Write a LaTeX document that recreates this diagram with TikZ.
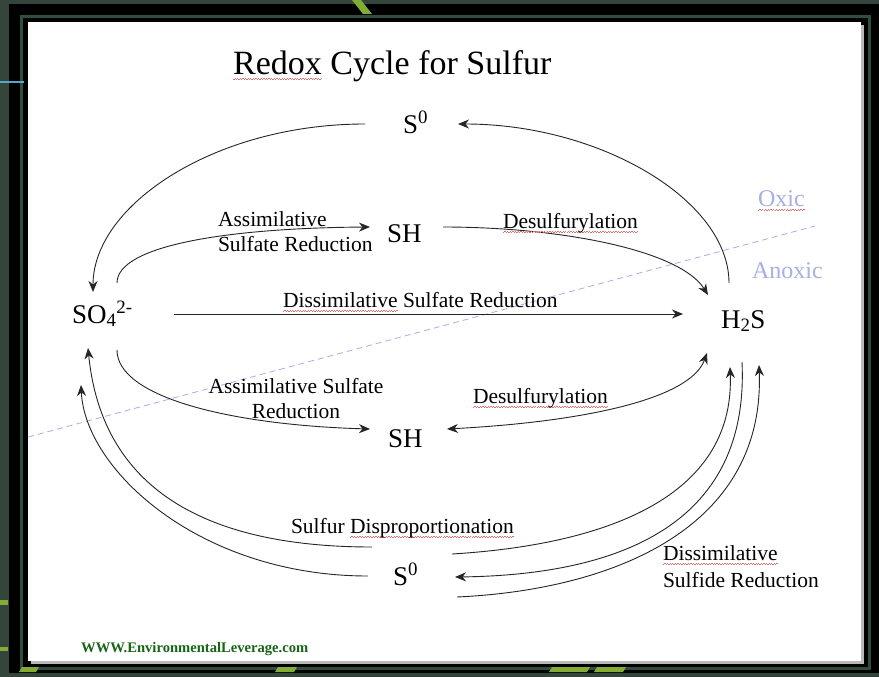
\documentclass[tikz,border=0pt]{standalone}
\usepackage{fontspec}
\setmainfont{Liberation Serif}
\usetikzlibrary{arrows.meta,calc}
\definecolor{bgdark}{RGB}{52,70,60}
\definecolor{framegreen}{RGB}{48,78,62}
\definecolor{limeg}{RGB}{130,172,52}
\definecolor{lav}{RGB}{168,174,230}
\definecolor{squig}{RGB}{225,110,110}
\definecolor{webgreen}{RGB}{22,100,22}
\newsavebox\sperrbox
\newcommand\sperr[2][black]{\sbox\sperrbox{#2}\rlap{\color{squig}\raisebox{-4pt}{\hbox to \wd\sperrbox{\xleaders\hbox{\rule{1.3pt}{0.45pt}\rule[0.9pt]{1.3pt}{0.45pt}}\hfill}}}{\color{#1}#2}}
\begin{document}
\begin{tikzpicture}[x=1pt,y=-1pt,
  chem/.style={inner sep=0pt,outer sep=0pt,anchor=base west,font=\fontsize{27}{30}\selectfont},
  lbl/.style={inner sep=0pt,outer sep=0pt,anchor=base west,font=\fontsize{21.5}{25}\selectfont},
  lblc/.style={inner sep=0pt,outer sep=0pt,anchor=base,font=\fontsize{21.5}{25}\selectfont},
  zone/.style={inner sep=0pt,outer sep=0pt,anchor=base west,text=lav,font=\fontsize{24}{28}\selectfont},
  conn/.style={draw=black!85,line width=0.9pt},
  arrowend/.style={-{Stealth[length=11pt,width=9pt,inset=3.5pt]}},
  arrowboth/.style={{Stealth[length=11pt,width=9pt,inset=3.5pt]}-{Stealth[length=11pt,width=9pt,inset=3.5pt]}},
]
\useasboundingbox (0,0) rectangle (879,677);
% slide background and frame
\fill[bgdark] (0,0) rectangle (879,677);
\fill[black] (9,4) rectangle (879,673);
\draw[framegreen,line width=3pt] (21,17) rectangle (869,668);
\fill[gray!55] (31,25) rectangle (864,664);
\fill[white] (28,22) rectangle (861,661);
% decorative stripes
\fill[limeg] (352,0) -- (361,0) -- (372,14) -- (363,14) -- cycle;
\fill[limeg] (22,667) -- (39,667) -- (36,672) -- (19,672) -- cycle;
\fill[limeg] (278,667) -- (297,667) -- (294,672) -- (275,672) -- cycle;
\fill[limeg] (552,667) -- (590,667) -- (587,672) -- (549,672) -- cycle;
\fill[limeg] (597,667) -- (626,667) -- (623,672) -- (594,672) -- cycle;
\fill[limeg] (0,600) rectangle (8,605);
\fill[limeg] (0,647) rectangle (8,651);
\fill[cyan!60!gray] (0,81) rectangle (24,83);
% oxic / anoxic divider
\draw[lav,line width=0.8pt,dash pattern=on 6pt off 4pt] (28,437) -- (815,226);
% title
\node[inner sep=0pt,anchor=base west,font=\fontsize{34}{38}\selectfont] (title) at (233,75) {\sperr{Redox} Cycle for Sulfur};
% species
\node[chem] (S0t) at (403,133) {S\textsuperscript{0}};
\node[chem] (SHu) at (387,242) {SH};
\node[chem] (SO4) at (72,323) {SO\textsubscript{4}\textsuperscript{2-}};
\node[chem] (H2S) at (721,328) {H\textsubscript{2}S};
\node[chem] (SHl) at (388,447) {SH};
\node[chem] (S0b) at (393,585) {S\textsuperscript{0}};
% zones
\node[zone] (oxic) at (758,206) {\sperr[lav]{Oxic}};
\node[zone] (anoxic) at (752,278) {Anoxic};
% connectors
\draw[conn,arrowend] ([shift={(-38,-9)}]S0t.base west) .. controls (215,124) and (93,205) .. ([shift={(21,-31)}]SO4.base west);
\draw[conn,arrowend] ([shift={(8,-45)}]H2S.base west) .. controls (729,200) and (600,124) .. ([shift={(55,-9)}]S0t.base west);
\draw[conn,arrowend] ([shift={(45,-40)}]SO4.base west) .. controls (117,245) and (230,228) .. ([shift={(-17,-15)}]SHu.base west);
\draw[conn,arrowend] ([shift={(56,-15)}]SHu.base west) .. controls (560,227) and (680,250) .. ([shift={(-13,-33)}]H2S.base west);
\draw[conn,arrowend] ([shift={(102,-9)}]SO4.base west) -- ([shift={(-38,-14)}]H2S.base west);
\draw[conn,arrowend] ([shift={(45,27)}]SO4.base west) .. controls (117,397) and (230,425) .. ([shift={(-18,-18)}]SHl.base west);
\draw[conn,arrowboth] ([shift={(59,-18)}]SHl.base west) .. controls (580,422) and (690,400) .. ([shift={(-14,25)}]H2S.base west);
\draw[conn,arrowend] ([shift={(-21,-38)}]S0b.base west) .. controls (180,547) and (100,470) .. ([shift={(16,25)}]SO4.base west);
\draw[conn,arrowend] ([shift={(-25,-9)}]S0b.base west) .. controls (200,576) and (85,470) .. ([shift={(9,62)}]SO4.base west);
\draw[conn,arrowend] ([shift={(59,-31)}]S0b.base west) .. controls (600,545) and (735,500) .. ([shift={(9,39)}]H2S.base west);
\draw[conn,arrowend] ([shift={(21,34)}]H2S.base west) .. controls (750,530) and (610,575) .. ([shift={(62,-8)}]S0b.base west);
\draw[conn,arrowend] ([shift={(64,12)}]S0b.base west) .. controls (610,590) and (765,530) .. ([shift={(38,37)}]H2S.base west);
% process labels
\node[lbl] (asrU1) at (218,226) {Assimilative};
\node[lbl] (asrU2) at (218,251) {Sulfate Reduction};
\node[lbl] (desU) at (503,228) {\sperr{Desulfurylation}};
\node[lbl] (dsr) at (283,307) {\sperr{Dissimilative} Sulfate Reduction};
\node[lblc] (asrL1) at (296,393) {Assimilative Sulfate};
\node[lblc] (asrL2) at (296,418) {Reduction};
\node[lbl] (desL) at (473,403) {\sperr{Desulfurylation}};
\node[lbl] (disp) at (291,533) {Sulfur \sperr{Disproportionation}};
\node[lbl] (dsfr1) at (663,560) {\sperr{Dissimilative}};
\node[lbl] (dsfr2) at (663,587) {Sulfide Reduction};
% footer
\node[inner sep=0pt,anchor=base west,text=webgreen,font=\fontsize{14.6}{17}\selectfont\bfseries] (web) at (81,652) {WWW.EnvironmentalLeverage.com};
\end{tikzpicture}
\end{document}
